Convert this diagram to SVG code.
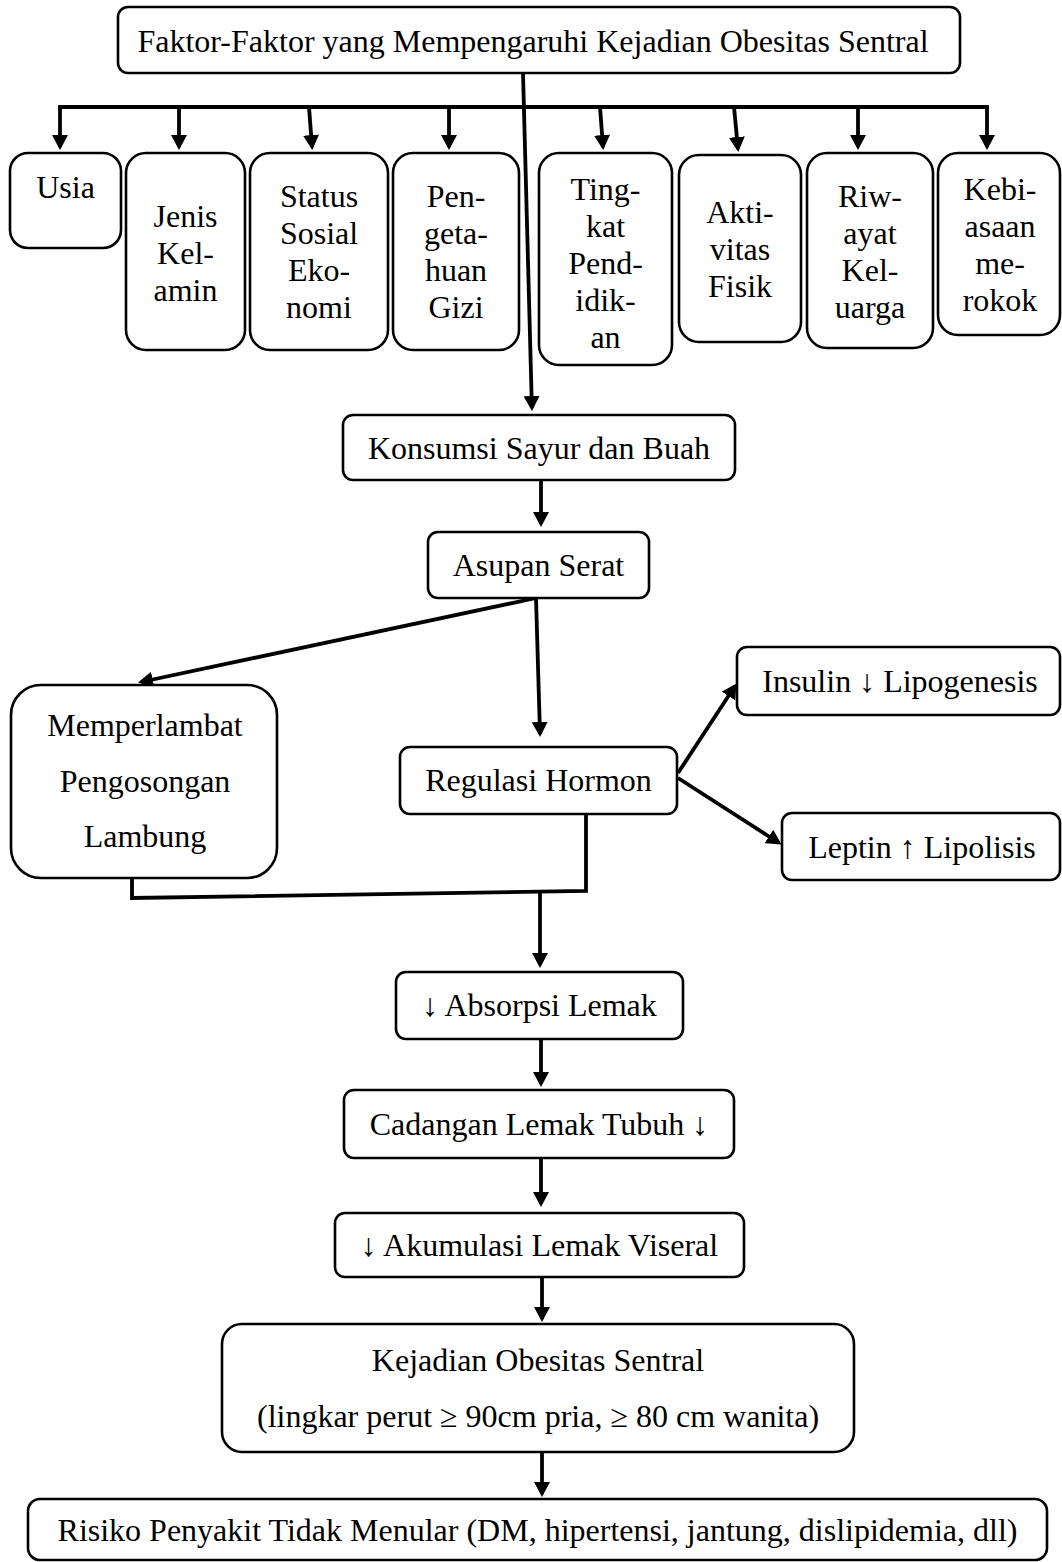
<svg xmlns="http://www.w3.org/2000/svg" width="1062" height="1562" viewBox="0 0 1062 1562">
<style>
.box{fill:#fff;stroke:#000;stroke-width:2.6}
.t{font-family:"Liberation Serif","Times New Roman",serif;font-size:32px;fill:#000;text-anchor:middle}
.c{fill:none;stroke:#000;stroke-width:3.8}
.a{marker-end:url(#ah)}
</style>
<defs>
<marker id="ah" viewBox="0 0 15 16" markerWidth="15" markerHeight="16" refX="12" refY="8" orient="auto" markerUnits="userSpaceOnUse">
<path d="M0,0 L15,8 L0,16 Z" fill="#000"/>
</marker>
</defs>
<rect width="1062" height="1562" fill="#fff"/>

<g id="connectors">
<path class="c a" d="M523,73 L531.9,408"/>
<path class="c" d="M60,110 V107 H987 V110"/>
<path class="c a" d="M60,107 V147"/>
<path class="c a" d="M179,107 V147"/>
<path class="c a" d="M309,107 L312,147"/>
<path class="c a" d="M449,107 V147"/>
<path class="c a" d="M600,107 L603,147"/>
<path class="c a" d="M734,107 L738,149"/>
<path class="c a" d="M858,107 V147"/>
<path class="c a" d="M987,107 V147"/>
<path class="c a" d="M541,480 V524"/>
<path class="c a" d="M536,598 L141,682"/>
<path class="c a" d="M536,598 L540,734"/>
<path class="c a" d="M678,773 L735,686"/>
<path class="c a" d="M678,778 L779,843"/>
<path class="c" d="M132,878 V898 L586,891 V813"/>
<path class="c a" d="M540,892 V965"/>
<path class="c a" d="M541,1039 V1084"/>
<path class="c a" d="M541,1158 V1204"/>
<path class="c a" d="M542,1277 V1319"/>
<path class="c a" d="M542,1452 V1494"/>
</g>

<g id="n-faktor">
<rect class="box" x="118" y="7" width="842" height="66" rx="10"/>
<text class="t" x="533" y="52">Faktor-Faktor yang Mempengaruhi Kejadian Obesitas Sentral</text>
</g>

<g id="n-usia">
<rect class="box" x="10" y="153" width="111" height="95" rx="18"/>
<text class="t" x="65.5" y="198">Usia</text>
</g>
<g id="n-jenis">
<rect class="box" x="126" y="153" width="119" height="197" rx="20"/>
<text class="t" x="185.5" y="227">Jenis</text>
<text class="t" x="185.5" y="264">Kel-</text>
<text class="t" x="185.5" y="301">amin</text>
</g>
<g id="n-status">
<rect class="box" x="250" y="153" width="138" height="197" rx="20"/>
<text class="t" x="319" y="207">Status</text>
<text class="t" x="319" y="244">Sosial</text>
<text class="t" x="319" y="281">Eko-</text>
<text class="t" x="319" y="318">nomi</text>
</g>
<g id="n-pengetahuan">
<rect class="box" x="393" y="153" width="126" height="197" rx="20"/>
<text class="t" x="456" y="207">Pen-</text>
<text class="t" x="456" y="244">geta-</text>
<text class="t" x="456" y="281">huan</text>
<text class="t" x="456" y="318">Gizi</text>
</g>
<g id="n-tingkat">
<rect class="box" x="539" y="153" width="133" height="212" rx="20"/>
<text class="t" x="605.5" y="200">Ting-</text>
<text class="t" x="605.5" y="237">kat</text>
<text class="t" x="605.5" y="274">Pend-</text>
<text class="t" x="605.5" y="311">idik-</text>
<text class="t" x="605.5" y="348">an</text>
</g>
<g id="n-aktivitas">
<rect class="box" x="679" y="155" width="122" height="187" rx="20"/>
<text class="t" x="740" y="223">Akti-</text>
<text class="t" x="740" y="260">vitas</text>
<text class="t" x="740" y="297">Fisik</text>
</g>
<g id="n-riwayat">
<rect class="box" x="807" y="153" width="126" height="195" rx="20"/>
<text class="t" x="870" y="207">Riw-</text>
<text class="t" x="870" y="244">ayat</text>
<text class="t" x="870" y="281">Kel-</text>
<text class="t" x="870" y="318">uarga</text>
</g>
<g id="n-kebiasaan">
<rect class="box" x="938" y="153" width="122" height="182" rx="20"/>
<text class="t" x="1000" y="200">Kebi-</text>
<text class="t" x="1000" y="237">asaan</text>
<text class="t" x="1000" y="274">me-</text>
<text class="t" x="1000" y="311">rokok</text>
</g>

<g id="n-konsumsi">
<rect class="box" x="343" y="415" width="392" height="65" rx="10"/>
<text class="t" x="539" y="459">Konsumsi Sayur dan Buah</text>
</g>
<g id="n-asupan">
<rect class="box" x="428" y="532" width="221" height="66" rx="10"/>
<text class="t" x="538.5" y="576">Asupan Serat</text>
</g>
<g id="n-memperlambat">
<rect class="box" x="11" y="685" width="266" height="193" rx="30"/>
<text class="t" x="145" y="736">Memperlambat</text>
<text class="t" x="145" y="792">Pengosongan</text>
<text class="t" x="145" y="847">Lambung</text>
</g>
<g id="n-regulasi">
<rect class="box" x="400" y="747" width="277" height="67" rx="10"/>
<text class="t" x="538.5" y="791">Regulasi Hormon</text>
</g>
<g id="n-insulin">
<rect class="box" x="737" y="647" width="323" height="68" rx="10"/>
<text class="t" x="900" y="692">Insulin ↓ Lipogenesis</text>
</g>
<g id="n-leptin">
<rect class="box" x="782" y="813" width="278" height="67" rx="10"/>
<text class="t" x="922" y="858">Leptin ↑ Lipolisis</text>
</g>
<g id="n-absorpsi">
<rect class="box" x="396" y="972" width="287" height="67" rx="10"/>
<text class="t" x="539.5" y="1016">↓ Absorpsi Lemak</text>
</g>
<g id="n-cadangan">
<rect class="box" x="344" y="1090" width="390" height="68" rx="10"/>
<text class="t" x="539" y="1135">Cadangan Lemak Tubuh ↓</text>
</g>
<g id="n-akumulasi">
<rect class="box" x="335" y="1213" width="409" height="64" rx="10"/>
<text class="t" x="539.5" y="1256">↓ Akumulasi Lemak Viseral</text>
</g>
<g id="n-kejadian">
<rect class="box" x="222" y="1324" width="632" height="128" rx="20"/>
<text class="t" x="538" y="1371">Kejadian Obesitas Sentral</text>
<text class="t" x="538" y="1427">(lingkar perut ≥ 90cm pria, ≥ 80 cm wanita)</text>
</g>
<g id="n-risiko">
<rect class="box" x="28" y="1499" width="1019" height="61" rx="12"/>
<text class="t" x="537.5" y="1541">Risiko Penyakit Tidak Menular (DM, hipertensi, jantung, dislipidemia, dll)</text>
</g>
</svg>
